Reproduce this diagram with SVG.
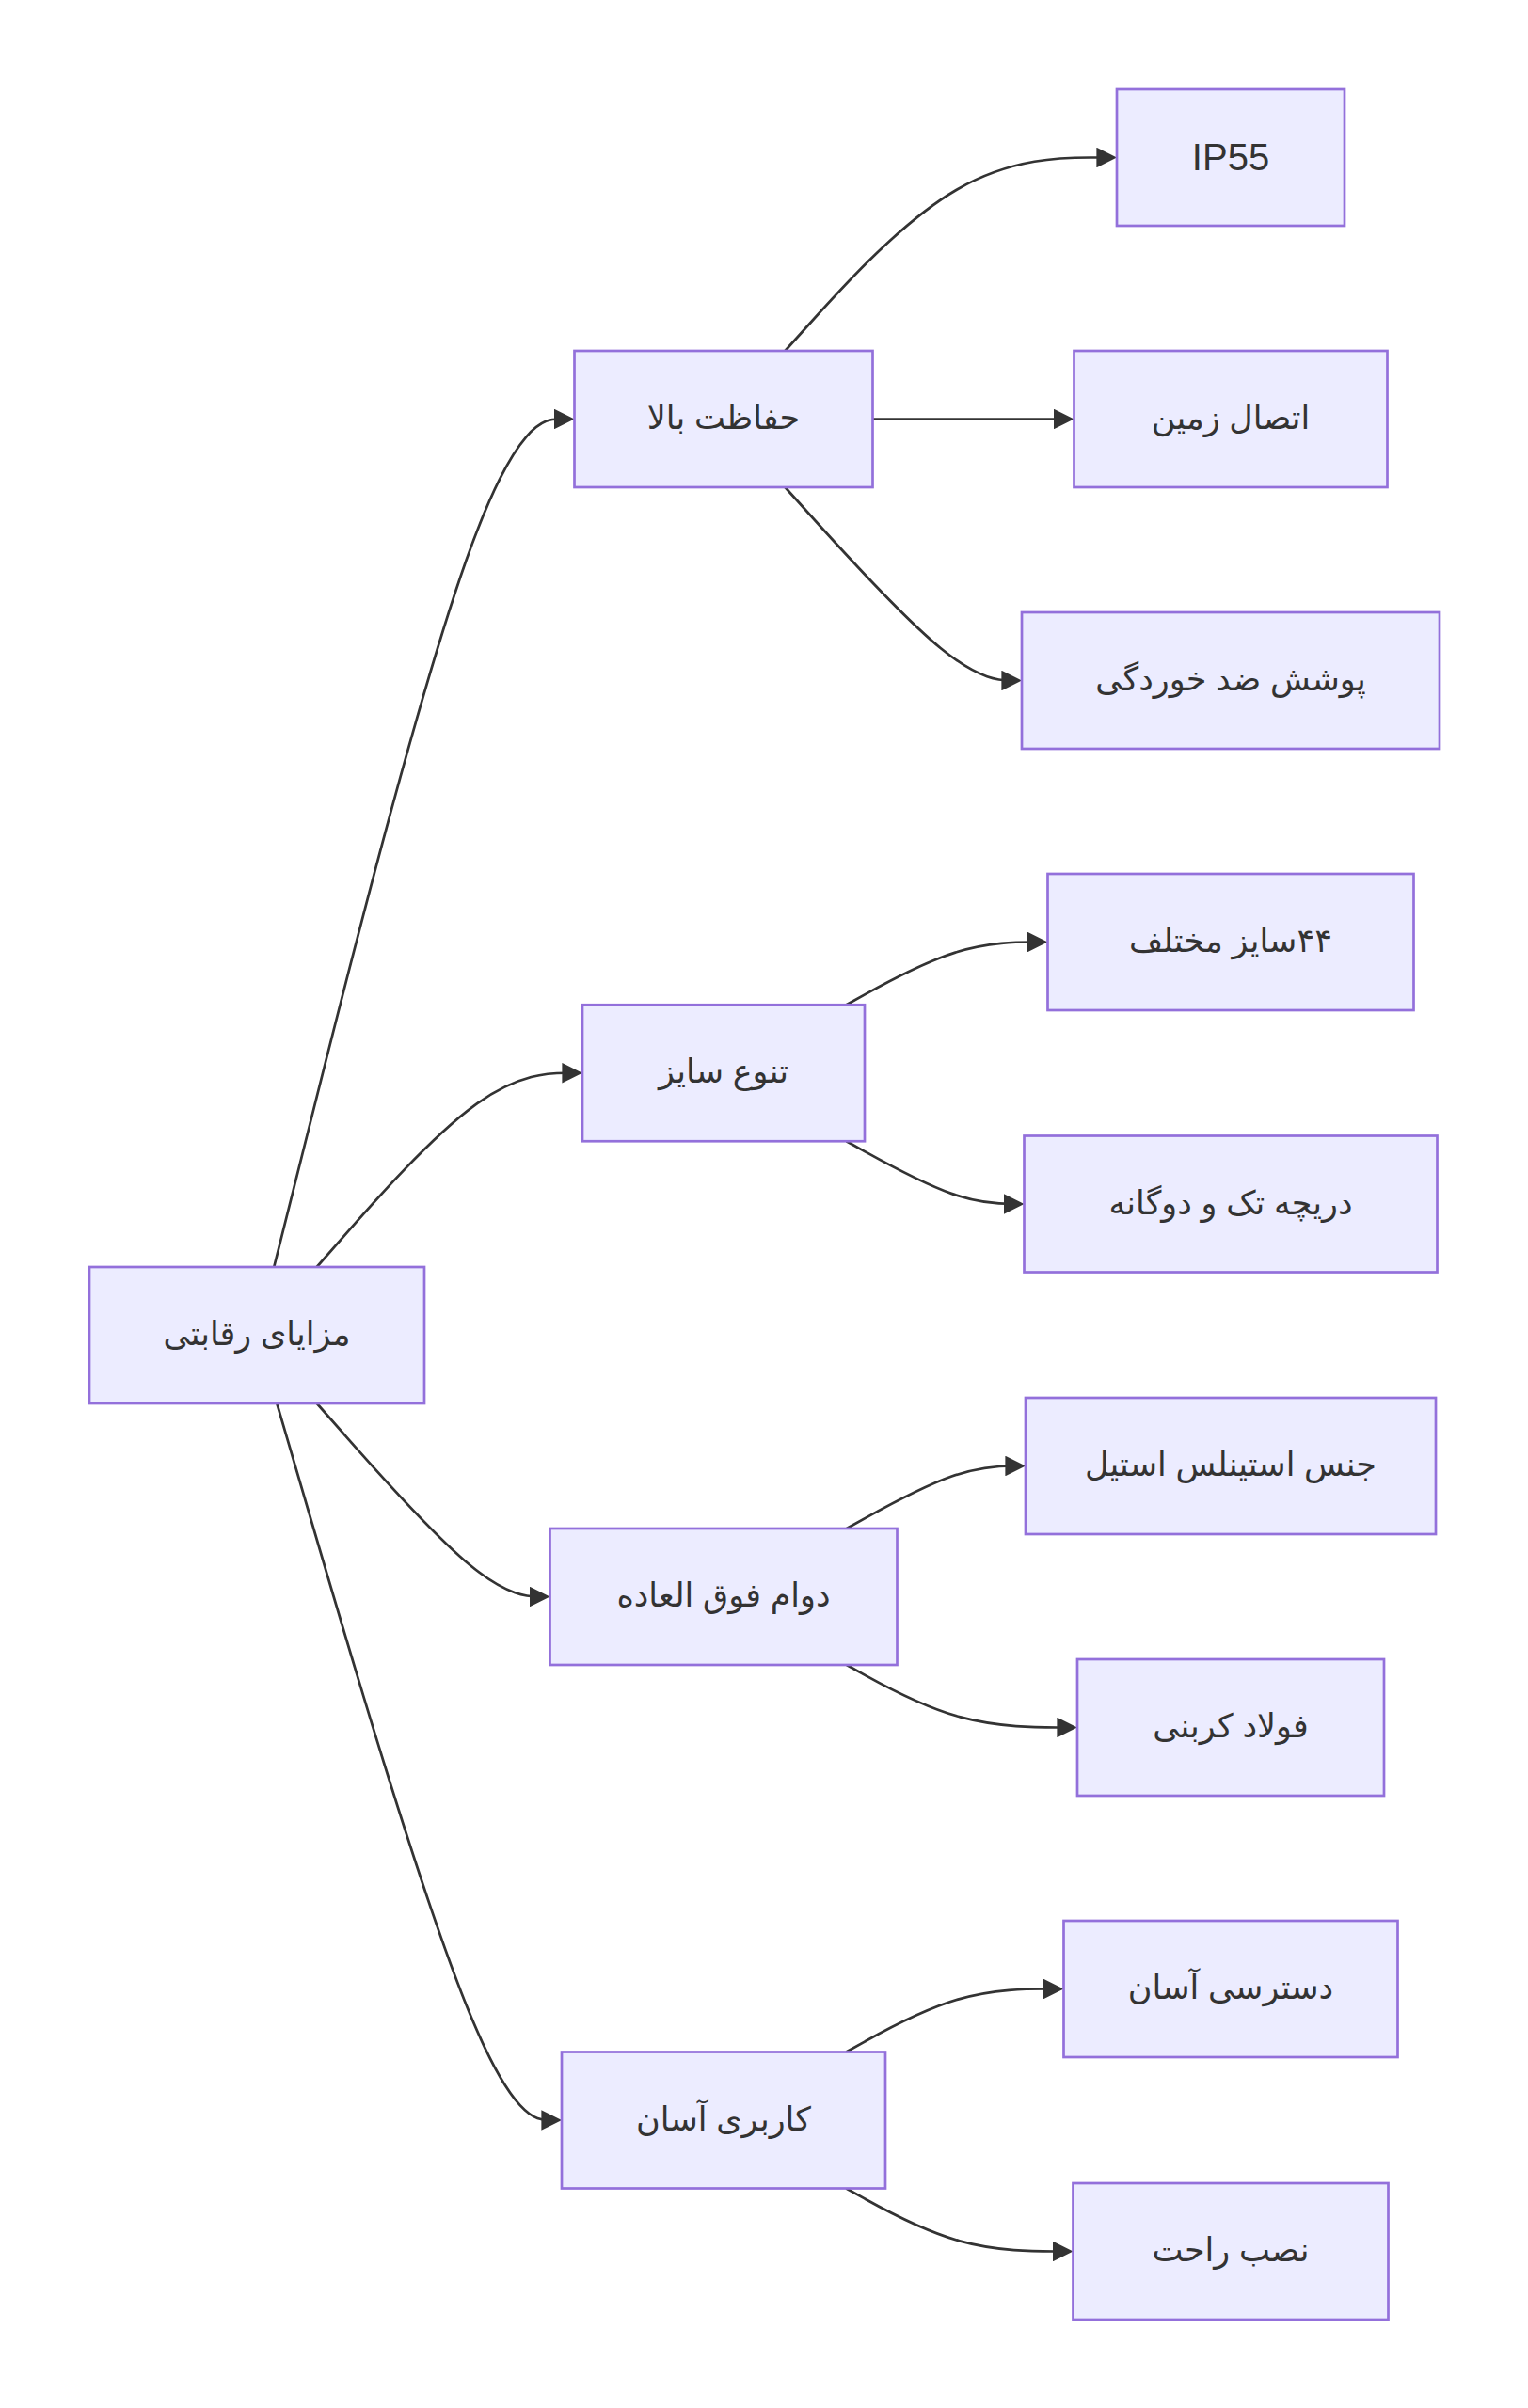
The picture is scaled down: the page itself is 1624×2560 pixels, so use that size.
<svg xmlns="http://www.w3.org/2000/svg" width="1624" height="2560" viewBox="0 0 1624 2560">
<style>
.node rect{fill:#ECECFF;stroke:#9370DB;stroke-width:2.7px;}
.node text{fill:#333333;font-family:"Liberation Sans","DejaVu Sans",sans-serif;font-size:35px;text-anchor:middle;}
.node text.lat{font-size:40px;}
.edges path{fill:none;stroke:#333333;stroke-width:2.7px;}
</style>
<defs>
<marker id="arrow" viewBox="0 0 10 10" refX="6.3" refY="5" markerUnits="userSpaceOnUse" markerWidth="21.6" markerHeight="21.6" orient="auto">
<path d="M0,0 L10,5 L0,10 z" fill="#333333"/>
</marker>
</defs>
<rect x="0" y="0" width="1624" height="2560" fill="#ffffff"/>
<g class="edges">
<path marker-end="url(#arrow)" d="M291.2,1347 L328.96,1196.75 C366.72,1046.5 442.23,746 495.45,595.75 C548.67,445.5 579.58,445.5 595.04,445.5 L602.5,445.5"/>
<path marker-end="url(#arrow)" d="M336.7,1347 L366.88,1312.63 C397.05,1278.25 457.4,1209.5 504.45,1175.13 C551.5,1140.75 585.25,1140.75 602.13,1140.75 L611,1140.75"/>
<path marker-end="url(#arrow)" d="M336.8,1492 L366.96,1526.25 C397.12,1560.5 457.43,1629 498.72,1663.25 C540,1697.5 562.25,1697.5 573.38,1697.5 L576.5,1697.5"/>
<path marker-end="url(#arrow)" d="M294.3,1492 L331.54,1619 C368.78,1746 443.27,2000 493.72,2127 C544.17,2254 570.58,2254 583.79,2254 L589,2254"/>
<path marker-end="url(#arrow)" d="M834.4,373 L865.29,338.75 C896.18,304.5 957.97,236 1016.73,201.75 C1075.5,167.5 1131.25,167.5 1159.13,167.5 L1179,167.5"/>
<path marker-end="url(#arrow)" d="M927.5,445.5 L1133.5,445.5"/>
<path marker-end="url(#arrow)" d="M834.4,518 L865.29,552.25 C896.18,586.5 957.97,655 999.9,689.25 C1041.83,723.5 1063.92,723.5 1074.96,723.5 L1078,723.5"/>
<path marker-end="url(#arrow)" d="M899.5,1068.25 L919.54,1057.13 C939.58,1046 979.67,1023.75 1015.33,1012.63 C1051,1001.5 1082.25,1001.5 1097.88,1001.5 L1105.5,1001.5"/>
<path marker-end="url(#arrow)" d="M899.5,1213.25 L919.54,1224.38 C939.58,1235.5 979.67,1257.75 1011.17,1268.88 C1042.67,1280 1065.58,1280 1077.04,1280 L1080.5,1280"/>
<path marker-end="url(#arrow)" d="M899.8,1625 L919.79,1613.92 C939.78,1602.83 979.77,1580.67 1011.47,1569.58 C1043.17,1558.5 1066.58,1558.5 1078.29,1558.5 L1082,1558.5"/>
<path marker-end="url(#arrow)" d="M899.8,1770 L919.79,1781.08 C939.78,1792.17 979.77,1814.33 1020.63,1825.42 C1061.5,1836.5 1103.25,1836.5 1124.13,1836.5 L1137,1836.5"/>
<path marker-end="url(#arrow)" d="M899.3,2181.5 L919.38,2170.33 C939.45,2159.17 979.6,2136.83 1018.13,2125.67 C1056.67,2114.5 1093.58,2114.5 1112.04,2114.5 L1122.5,2114.5"/>
<path marker-end="url(#arrow)" d="M899.3,2326.5 L919.38,2337.67 C939.45,2348.83 979.6,2371.17 1019.8,2382.33 C1060,2393.5 1100.25,2393.5 1120.38,2393.5 L1132.5,2393.5"/>
</g>
<g id="n-root" class="node"><rect x="95" y="1347" width="356" height="145"/><text x="273" y="1430" direction="rtl">مزایای رقابتی</text></g>
<g id="n-hefazat" class="node"><rect x="610.5" y="373" width="317" height="145"/><text x="769" y="456" direction="rtl">حفاظت بالا</text></g>
<g id="n-tanavo" class="node"><rect x="619" y="1068.25" width="300" height="145"/><text x="769" y="1151.25" direction="rtl">تنوع سایز</text></g>
<g id="n-davam" class="node"><rect x="584.5" y="1625" width="369" height="145"/><text x="769" y="1708" direction="rtl">دوام فوق العاده</text></g>
<g id="n-karbari" class="node"><rect x="597" y="2181.5" width="344" height="145"/><text x="769" y="2264.5" direction="rtl">کاربری آسان</text></g>
<g id="n-ip55" class="node"><rect x="1187" y="95" width="242" height="145"/><text class="lat" x="1308" y="181">IP55</text></g>
<g id="n-ettesal" class="node"><rect x="1141.5" y="373" width="333" height="145"/><text x="1308" y="456" direction="rtl">اتصال زمین</text></g>
<g id="n-pooshesh" class="node"><rect x="1086" y="651" width="444" height="145"/><text x="1308" y="734" direction="rtl">پوشش ضد خوردگی</text></g>
<g id="n-size44" class="node"><rect x="1113.5" y="929" width="389" height="145"/><text x="1308" y="1012" direction="rtl">۴۴سایز مختلف</text></g>
<g id="n-dariche" class="node"><rect x="1088.5" y="1207.5" width="439" height="145"/><text x="1308" y="1290.5" direction="rtl">دریچه تک و دوگانه</text></g>
<g id="n-jens" class="node"><rect x="1090" y="1486" width="436" height="145"/><text x="1308" y="1569" direction="rtl">جنس استینلس استیل</text></g>
<g id="n-foolad" class="node"><rect x="1145" y="1764" width="326" height="145"/><text x="1308" y="1847" direction="rtl">فولاد کربنی</text></g>
<g id="n-dastresi" class="node"><rect x="1130.5" y="2042" width="355" height="145"/><text x="1308" y="2125" direction="rtl">دسترسی آسان</text></g>
<g id="n-nasb" class="node"><rect x="1140.5" y="2321" width="335" height="145"/><text x="1308" y="2404" direction="rtl">نصب راحت</text></g>
</svg>
